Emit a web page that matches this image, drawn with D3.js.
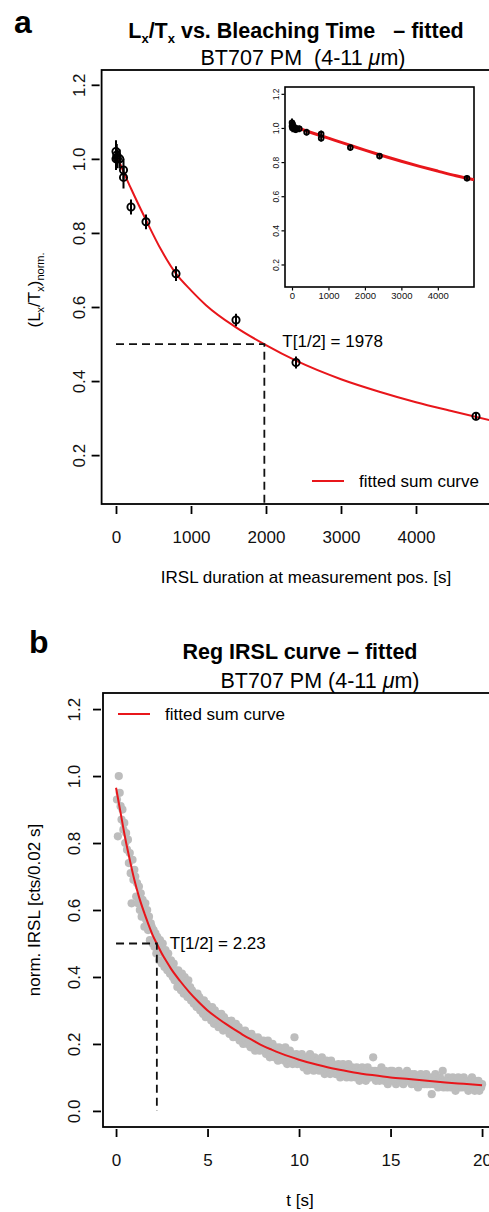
<!DOCTYPE html>
<html>
<head>
<meta charset="utf-8">
<script src="https://cdn.jsdelivr.net/npm/d3@7"></script>
<style>
  body { margin: 0; background: #fff; }
  svg { display: block; font-family: "Liberation Sans", Arial, sans-serif; }
</style>
</head>
<body>
<div id="chart"></div>
<script>
// ---- panel a: Lx/Tx vs bleaching time ----
const bleachTime = [0, 0, 10, 20, 50, 100, 100, 200, 400, 800, 1600, 2400, 4800];
const lxtxNorm   = [1.00, 1.02, 1.01, 1.00, 1.00, 0.97, 0.95, 0.87, 0.83, 0.69, 0.565, 0.45, 0.305];
const lxtxErr    = [0.03, 0.03, 0.03, 0.025, 0.025, 0.03, 0.03, 0.02, 0.02, 0.02, 0.017, 0.016, 0.011];

const fitTimeA = [0, 100, 200, 400, 600, 800, 1000, 1200, 1600, 2000, 2400, 3000, 3500, 4000, 4500, 4992];
const fitValA  = [1.015, 0.965, 0.92, 0.835, 0.755, 0.69, 0.645, 0.605, 0.545, 0.497, 0.455, 0.405, 0.372, 0.343, 0.318, 0.294];
const halfLifeA = 1978;

// inset (other aliquot)
const insetTime = [0, 0, 10, 20, 50, 100, 100, 200, 400, 800, 800, 1600, 2400, 4800];
const insetVal  = [1.01, 1.03, 1.00, 1.02, 1.00, 0.99, 1.00, 0.995, 0.975, 0.965, 0.94, 0.885, 0.835, 0.705];
const insetErr  = [0.025, 0.025, 0.025, 0.025, 0.02, 0.02, 0.02, 0.02, 0.02, 0.02, 0.02, 0.018, 0.018, 0.018];
const insetFitT = [0, 500, 1000, 1500, 2000, 2400, 3000, 3500, 4000, 4500, 4992];
const insetFitV = [1.012, 0.975, 0.94, 0.905, 0.87, 0.843, 0.805, 0.775, 0.747, 0.72, 0.697];

const xTicksA = [0, 1000, 2000, 3000, 4000];
const yTicksA = [0.2, 0.4, 0.6, 0.8, 1.0, 1.2];

// ---- panel b: regenerated IRSL curve ----
const irslStep = 0.05; // channel width of the plotted curve [s]
const irslSignal = [
  0.93, 0.82, 1.00, 0.95, 0.91, 0.87, 0.90, 0.84, 0.86, 0.80, 0.83, 0.78, 0.81, 0.74, 0.77, 0.71, 0.62, 0.75, 0.69, 0.72,
  0.70, 0.64, 0.68, 0.62, 0.67, 0.60, 0.65, 0.58, 0.63, 0.61, 0.55, 0.62, 0.57, 0.60, 0.54, 0.58, 0.51, 0.56, 0.55, 0.50,
  0.54, 0.49, 0.53, 0.47, 0.52, 0.50, 0.45, 0.51, 0.49, 0.44, 0.50, 0.47, 0.43, 0.48, 0.46, 0.42, 0.47, 0.44, 0.41, 0.45,
  0.43, 0.40, 0.44, 0.39, 0.42, 0.41, 0.37, 0.42, 0.38, 0.40, 0.36, 0.41, 0.39, 0.35, 0.40, 0.37, 0.38, 0.34, 0.39, 0.36,
  0.37, 0.33, 0.36, 0.34, 0.32, 0.35, 0.33, 0.31, 0.35, 0.32, 0.34, 0.30, 0.33, 0.31, 0.29, 0.33, 0.31, 0.28, 0.32, 0.30,
  0.31, 0.28, 0.30, 0.27, 0.31, 0.29, 0.26, 0.30, 0.28, 0.27, 0.29, 0.25, 0.28, 0.26, 0.29, 0.27, 0.24, 0.28, 0.26, 0.25,
  0.27, 0.24, 0.26, 0.23, 0.25, 0.27, 0.24, 0.22, 0.25, 0.23, 0.26, 0.22, 0.24, 0.25, 0.21, 0.24, 0.22, 0.23, 0.20, 0.23,
  0.24, 0.21, 0.23, 0.20, 0.22, 0.21, 0.19, 0.23, 0.21, 0.20, 0.22, 0.18, 0.21, 0.19, 0.22, 0.20, 0.18, 0.21, 0.19, 0.20,
  0.21, 0.18, 0.20, 0.17, 0.19, 0.21, 0.18, 0.16, 0.19, 0.17, 0.20, 0.18, 0.16, 0.19, 0.17, 0.18, 0.15, 0.19, 0.17, 0.16,
  0.18, 0.16, 0.17, 0.15, 0.19, 0.16, 0.14, 0.17, 0.16, 0.18, 0.15, 0.17, 0.14, 0.16, 0.22, 0.15, 0.17, 0.14, 0.16, 0.15,
  0.16, 0.14, 0.17, 0.15, 0.13, 0.16, 0.14, 0.15, 0.12, 0.16, 0.14, 0.17, 0.13, 0.15, 0.14, 0.12, 0.16, 0.14, 0.13, 0.15,
  0.15, 0.12, 0.14, 0.13, 0.16, 0.12, 0.14, 0.11, 0.13, 0.15, 0.12, 0.14, 0.13, 0.11, 0.15, 0.12, 0.14, 0.12, 0.13, 0.11,
  0.13, 0.11, 0.14, 0.12, 0.10, 0.13, 0.12, 0.14, 0.11, 0.12, 0.13, 0.10, 0.12, 0.14, 0.11, 0.12, 0.10, 0.13, 0.11, 0.12,
  0.12, 0.10, 0.13, 0.11, 0.12, 0.09, 0.12, 0.11, 0.13, 0.10, 0.11, 0.12, 0.09, 0.11, 0.13, 0.10, 0.12, 0.10, 0.11, 0.12,
  0.16, 0.10, 0.12, 0.09, 0.11, 0.10, 0.12, 0.09, 0.11, 0.13, 0.10, 0.11, 0.09, 0.12, 0.10, 0.11, 0.08, 0.11, 0.10, 0.12,
  0.10, 0.12, 0.09, 0.11, 0.10, 0.08, 0.11, 0.09, 0.12, 0.10, 0.09, 0.11, 0.10, 0.08, 0.11, 0.09, 0.10, 0.12, 0.09, 0.10,
  0.09, 0.11, 0.08, 0.10, 0.09, 0.11, 0.08, 0.10, 0.09, 0.07, 0.10, 0.09, 0.11, 0.08, 0.09, 0.10, 0.08, 0.09, 0.11, 0.08,
  0.09, 0.10, 0.08, 0.09, 0.05, 0.10, 0.08, 0.09, 0.11, 0.08, 0.10, 0.07, 0.09, 0.10, 0.08, 0.09, 0.12, 0.07, 0.09, 0.08,
  0.09, 0.07, 0.10, 0.08, 0.09, 0.07, 0.08, 0.10, 0.08, 0.09, 0.06, 0.09, 0.08, 0.10, 0.07, 0.08, 0.09, 0.07, 0.08, 0.10,
  0.08, 0.07, 0.09, 0.08, 0.06, 0.09, 0.07, 0.08, 0.10, 0.07, 0.08, 0.06, 0.09, 0.07, 0.08, 0.09, 0.06, 0.08, 0.07, 0.08
];

const fitTimeB = [0, 0.25, 0.5, 0.75, 1, 1.25, 1.5, 1.75, 2, 2.25, 2.5, 2.75, 3, 3.5, 4, 4.5, 5, 5.5, 6, 6.5, 7, 7.5, 8, 8.5, 9, 9.5, 10, 11, 12, 13, 14, 15, 16, 17, 18, 19, 20];
const fitValB  = [0.965, 0.89, 0.815, 0.75, 0.69, 0.64, 0.598, 0.56, 0.525, 0.497, 0.47, 0.447, 0.425, 0.388, 0.355, 0.326, 0.30, 0.279, 0.26, 0.242, 0.225, 0.21, 0.195, 0.183, 0.172, 0.162, 0.153, 0.138, 0.125, 0.115, 0.107, 0.10, 0.095, 0.09, 0.085, 0.081, 0.077];
const halfLifeB = 2.23;

const xTicksB = [0, 5, 10, 15, 20];
const yTicksB = [0.0, 0.2, 0.4, 0.6, 0.8, 1.0, 1.2];

const w = 489, h = 1212;
const red = '#e8161b';
const font = 17;
const titleFont = 21.5;

const svg = d3.select('#chart').append('svg')
  .attr('width', w)
  .attr('height', h);

// axis helpers (R style: rotated y labels, no domain line, box drawn separately)
function bottomAxis(g, scale, ticks, y0, tick, pad, size) {
  const ax = g.append('g')
    .attr('transform', 'translate(0,' + y0 + ')')
    .call(d3.axisBottom(scale).tickValues(ticks).tickSize(tick).tickPadding(pad)
      .tickFormat(d3.format('d')));
  ax.select('.domain').remove();
  ax.selectAll('line').attr('stroke', '#000').attr('stroke-width', size > 12 ? 1.8 : 1.2);
  ax.selectAll('text').style('font-size', size + 'px').attr('fill', '#111')
    .style('font-family', '"Liberation Sans", Arial, sans-serif');
  return ax;
}

function leftAxis(g, scale, ticks, x0, tick, off, size) {
  const ax = g.append('g')
    .attr('transform', 'translate(' + x0 + ',0)')
    .call(d3.axisLeft(scale).tickValues(ticks).tickSize(tick).tickFormat(d3.format('.1f')));
  ax.select('.domain').remove();
  ax.selectAll('line').attr('stroke', '#000').attr('stroke-width', size > 12 ? 1.8 : 1.2);
  ax.selectAll('text')
    .attr('x', null).attr('dy', '0.35em')
    .attr('text-anchor', 'middle')
    .attr('transform', 'translate(' + (-off) + ',0) rotate(-90)')
    .style('font-size', size + 'px').attr('fill', '#111')
    .style('font-family', '"Liberation Sans", Arial, sans-serif');
  return ax;
}

function box(g, x0, x1, y0, y1, sw) {
  g.append('rect')
    .attr('x', x0).attr('y', y0)
    .attr('width', x1 - x0).attr('height', y1 - y0)
    .attr('fill', 'none').attr('stroke', '#000').attr('stroke-width', sw);
}

// ================= panel a =================
const xA = d3.scaleLinear().domain([-192, 4992]).range([101.6, 490.4]);
const yA = d3.scaleLinear().domain([0.068, 1.24]).range([504, 70]);

const pa = svg.append('g');

pa.append('clipPath').attr('id', 'clipA').append('rect')
  .attr('x', 101.6).attr('y', 70).attr('width', 388.8).attr('height', 434);

pa.append('text').attr('x', 14).attr('y', 33)
  .style('font-size', '32px').style('font-weight', 'bold').text('a');

const titleA = pa.append('text').attr('x', 296).attr('y', 38)
  .attr('text-anchor', 'middle').style('font-size', titleFont + 'px').style('font-weight', 'bold')
  .style('white-space', 'pre');
titleA.append('tspan').text('L');
titleA.append('tspan').attr('dy', 5).style('font-size', '13px').text('x');
titleA.append('tspan').attr('dy', -5).text('/T');
titleA.append('tspan').attr('dy', 5).style('font-size', '13px').text('x');
titleA.append('tspan').attr('dy', -5).text(' vs. Bleaching Time   \u2013 fitted');

const subA = pa.append('text').attr('x', 303).attr('y', 65)
  .attr('text-anchor', 'middle').style('font-size', titleFont + 'px').style('white-space', 'pre');
subA.append('tspan').text('BT707 PM  (4-11 ');
subA.append('tspan').style('font-style', 'italic').text('\u03bc');
subA.append('tspan').text('m)');

box(pa, 101.6, 490.4, 70, 504, 1.8);
bottomAxis(pa, xA, xTicksA, 506, 8, 17, font);
leftAxis(pa, yA, yTicksA, 99.6, 8, 21, font);

pa.append('text').attr('x', 306).attr('y', 583).attr('text-anchor', 'middle')
  .style('font-size', font + 'px').text('IRSL duration at measurement pos. [s]');

const ylabA = pa.append('text')
  .attr('transform', 'translate(40,290) rotate(-90)')
  .attr('text-anchor', 'middle').style('font-size', font + 'px');
ylabA.append('tspan').text('(L');
ylabA.append('tspan').attr('dy', 4).style('font-size', '11px').text('x');
ylabA.append('tspan').attr('dy', -4).text('/T');
ylabA.append('tspan').attr('dy', 4).style('font-size', '11px').text('x');
ylabA.append('tspan').attr('dy', -4).text(')');
ylabA.append('tspan').attr('dy', 4).style('font-size', '11px').text('norm.');

// fitted curve
const plotA = pa.append('g').attr('clip-path', 'url(#clipA)');
plotA.append('path')
  .datum(fitTimeA.map((t, i) => [t, fitValA[i]]))
  .attr('fill', 'none').attr('stroke', red).attr('stroke-width', 2)
  .attr('d', d3.line().x(d => xA(d[0])).y(d => yA(d[1])).curve(d3.curveMonotoneX));

// half-life guide
plotA.append('path')
  .datum([[0, 0.5], [halfLifeA, 0.5], [halfLifeA, 0]])
  .attr('fill', 'none').attr('stroke', '#111').attr('stroke-width', 1.8)
  .attr('stroke-dasharray', '8,5')
  .attr('d', d3.line().x(d => xA(d[0])).y(d => yA(d[1])));
pa.append('text').attr('x', xA(halfLifeA) + 18).attr('y', yA(0.5) + 3)
  .style('font-size', font + 'px').text('T[1/2] = ' + halfLifeA);

// error bars + open circles
const ptsA = bleachTime.map((t, i) => ({ t: t, v: lxtxNorm[i], e: lxtxErr[i] }));
plotA.selectAll('.errA').data(ptsA).enter().append('line')
  .attr('x1', d => xA(d.t)).attr('x2', d => xA(d.t))
  .attr('y1', d => yA(d.v - d.e)).attr('y2', d => yA(d.v + d.e))
  .attr('stroke', '#000').attr('stroke-width', 2);
plotA.selectAll('.ptA').data(ptsA).enter().append('circle')
  .attr('cx', d => xA(d.t)).attr('cy', d => yA(d.v)).attr('r', 3.6)
  .attr('fill', 'none').attr('stroke', '#000').attr('stroke-width', 1.9);

// legend
pa.append('line').attr('x1', 312).attr('x2', 344).attr('y1', 481).attr('y2', 481)
  .attr('stroke', red).attr('stroke-width', 2);
pa.append('text').attr('x', 359).attr('y', 487).style('font-size', font + 'px').text('fitted sum curve');

// ---- inset ----
const xI = d3.scaleLinear().domain([-192, 4992]).range([285, 474]);
const yI = d3.scaleLinear().domain([0.068, 1.24]).range([287, 87]);
const ins = pa.append('g');
ins.append('rect').attr('x', 285).attr('y', 87).attr('width', 189).attr('height', 200).attr('fill', '#fff');
box(ins, 285, 474, 87, 287, 1.6);
bottomAxis(ins, xI, xTicksA, 287.5, 3, 2, 9.5);
leftAxis(ins, yI, yTicksA, 284.5, 3, 8, 8.5);

const ptsI = insetTime.map((t, i) => ({ t: t, v: insetVal[i], e: insetErr[i] }));
ins.append('path')
  .datum(insetFitT.map((t, i) => [t, insetFitV[i]]))
  .attr('fill', 'none').attr('stroke', red).attr('stroke-width', 3)
  .attr('d', d3.line().x(d => xI(d[0])).y(d => yI(d[1])).curve(d3.curveMonotoneX));
ins.selectAll('.errI').data(ptsI).enter().append('line')
  .attr('x1', d => xI(d.t)).attr('x2', d => xI(d.t))
  .attr('y1', d => yI(d.v - d.e)).attr('y2', d => yI(d.v + d.e))
  .attr('stroke', '#000').attr('stroke-width', 2);
ins.selectAll('.ptI').data(ptsI).enter().append('circle')
  .attr('cx', d => xI(d.t)).attr('cy', d => yI(d.v)).attr('r', 2.4)
  .attr('fill', 'none').attr('stroke', '#000').attr('stroke-width', 1.8);

// ================= panel b =================
const xB = d3.scaleLinear().domain([-0.8, 20.8]).range([101.4, 496.7]);
const yB = d3.scaleLinear().domain([-0.048, 1.248]).range([1127, 693]);

const pb = svg.append('g');

pb.append('text').attr('x', 29).attr('y', 653)
  .style('font-size', '32px').style('font-weight', 'bold').text('b');

pb.append('text').attr('x', 300).attr('y', 659).attr('text-anchor', 'middle')
  .style('font-size', titleFont + 'px').style('font-weight', 'bold').text('Reg IRSL curve \u2013 fitted');

const subB = pb.append('text').attr('x', 320).attr('y', 688)
  .attr('text-anchor', 'middle').style('font-size', titleFont + 'px');
subB.append('tspan').text('BT707 PM (4-11 ');
subB.append('tspan').style('font-style', 'italic').text('\u03bc');
subB.append('tspan').text('m)');

// signal points
const ptsB = irslSignal.map((v, i) => ({ t: (i + 1) * irslStep, v: v }));
pb.selectAll('.ptB').data(ptsB).enter().append('circle')
  .attr('cx', d => xB(d.t)).attr('cy', d => yB(d.v)).attr('r', 4.1)
  .attr('fill', '#bdbdbd');

pb.append('path')
  .datum(fitTimeB.map((t, i) => [t, fitValB[i]]))
  .attr('fill', 'none').attr('stroke', red).attr('stroke-width', 2)
  .attr('d', d3.line().x(d => xB(d[0])).y(d => yB(d[1])).curve(d3.curveMonotoneX));

pb.append('path')
  .datum([[0, 0.5], [halfLifeB, 0.5], [halfLifeB, 0]])
  .attr('fill', 'none').attr('stroke', '#111').attr('stroke-width', 1.8)
  .attr('stroke-dasharray', '8,5')
  .attr('d', d3.line().x(d => xB(d[0])).y(d => yB(d[1])));
pb.append('text').attr('x', xB(halfLifeB) + 13).attr('y', yB(0.5) + 6)
  .style('font-size', font + 'px').text('T[1/2] = ' + halfLifeB);

box(pb, 103, 496.7, 693, 1127, 1.8);
bottomAxis(pb, xB, xTicksB, 1129, 8, 17, font);
leftAxis(pb, yB, yTicksB, 101, 8, 27, font);

pb.append('text').attr('x', 300).attr('y', 1206).attr('text-anchor', 'middle')
  .style('font-size', font + 'px').text('t [s]');
pb.append('text').attr('transform', 'translate(40,910) rotate(-90)')
  .attr('text-anchor', 'middle').style('font-size', font + 'px')
  .text('norm. IRSL [cts/0.02 s]');

pb.append('line').attr('x1', 118).attr('x2', 150).attr('y1', 714).attr('y2', 714)
  .attr('stroke', red).attr('stroke-width', 2);
pb.append('text').attr('x', 165).attr('y', 720).style('font-size', font + 'px').text('fitted sum curve');
</script>
</body>
</html>
